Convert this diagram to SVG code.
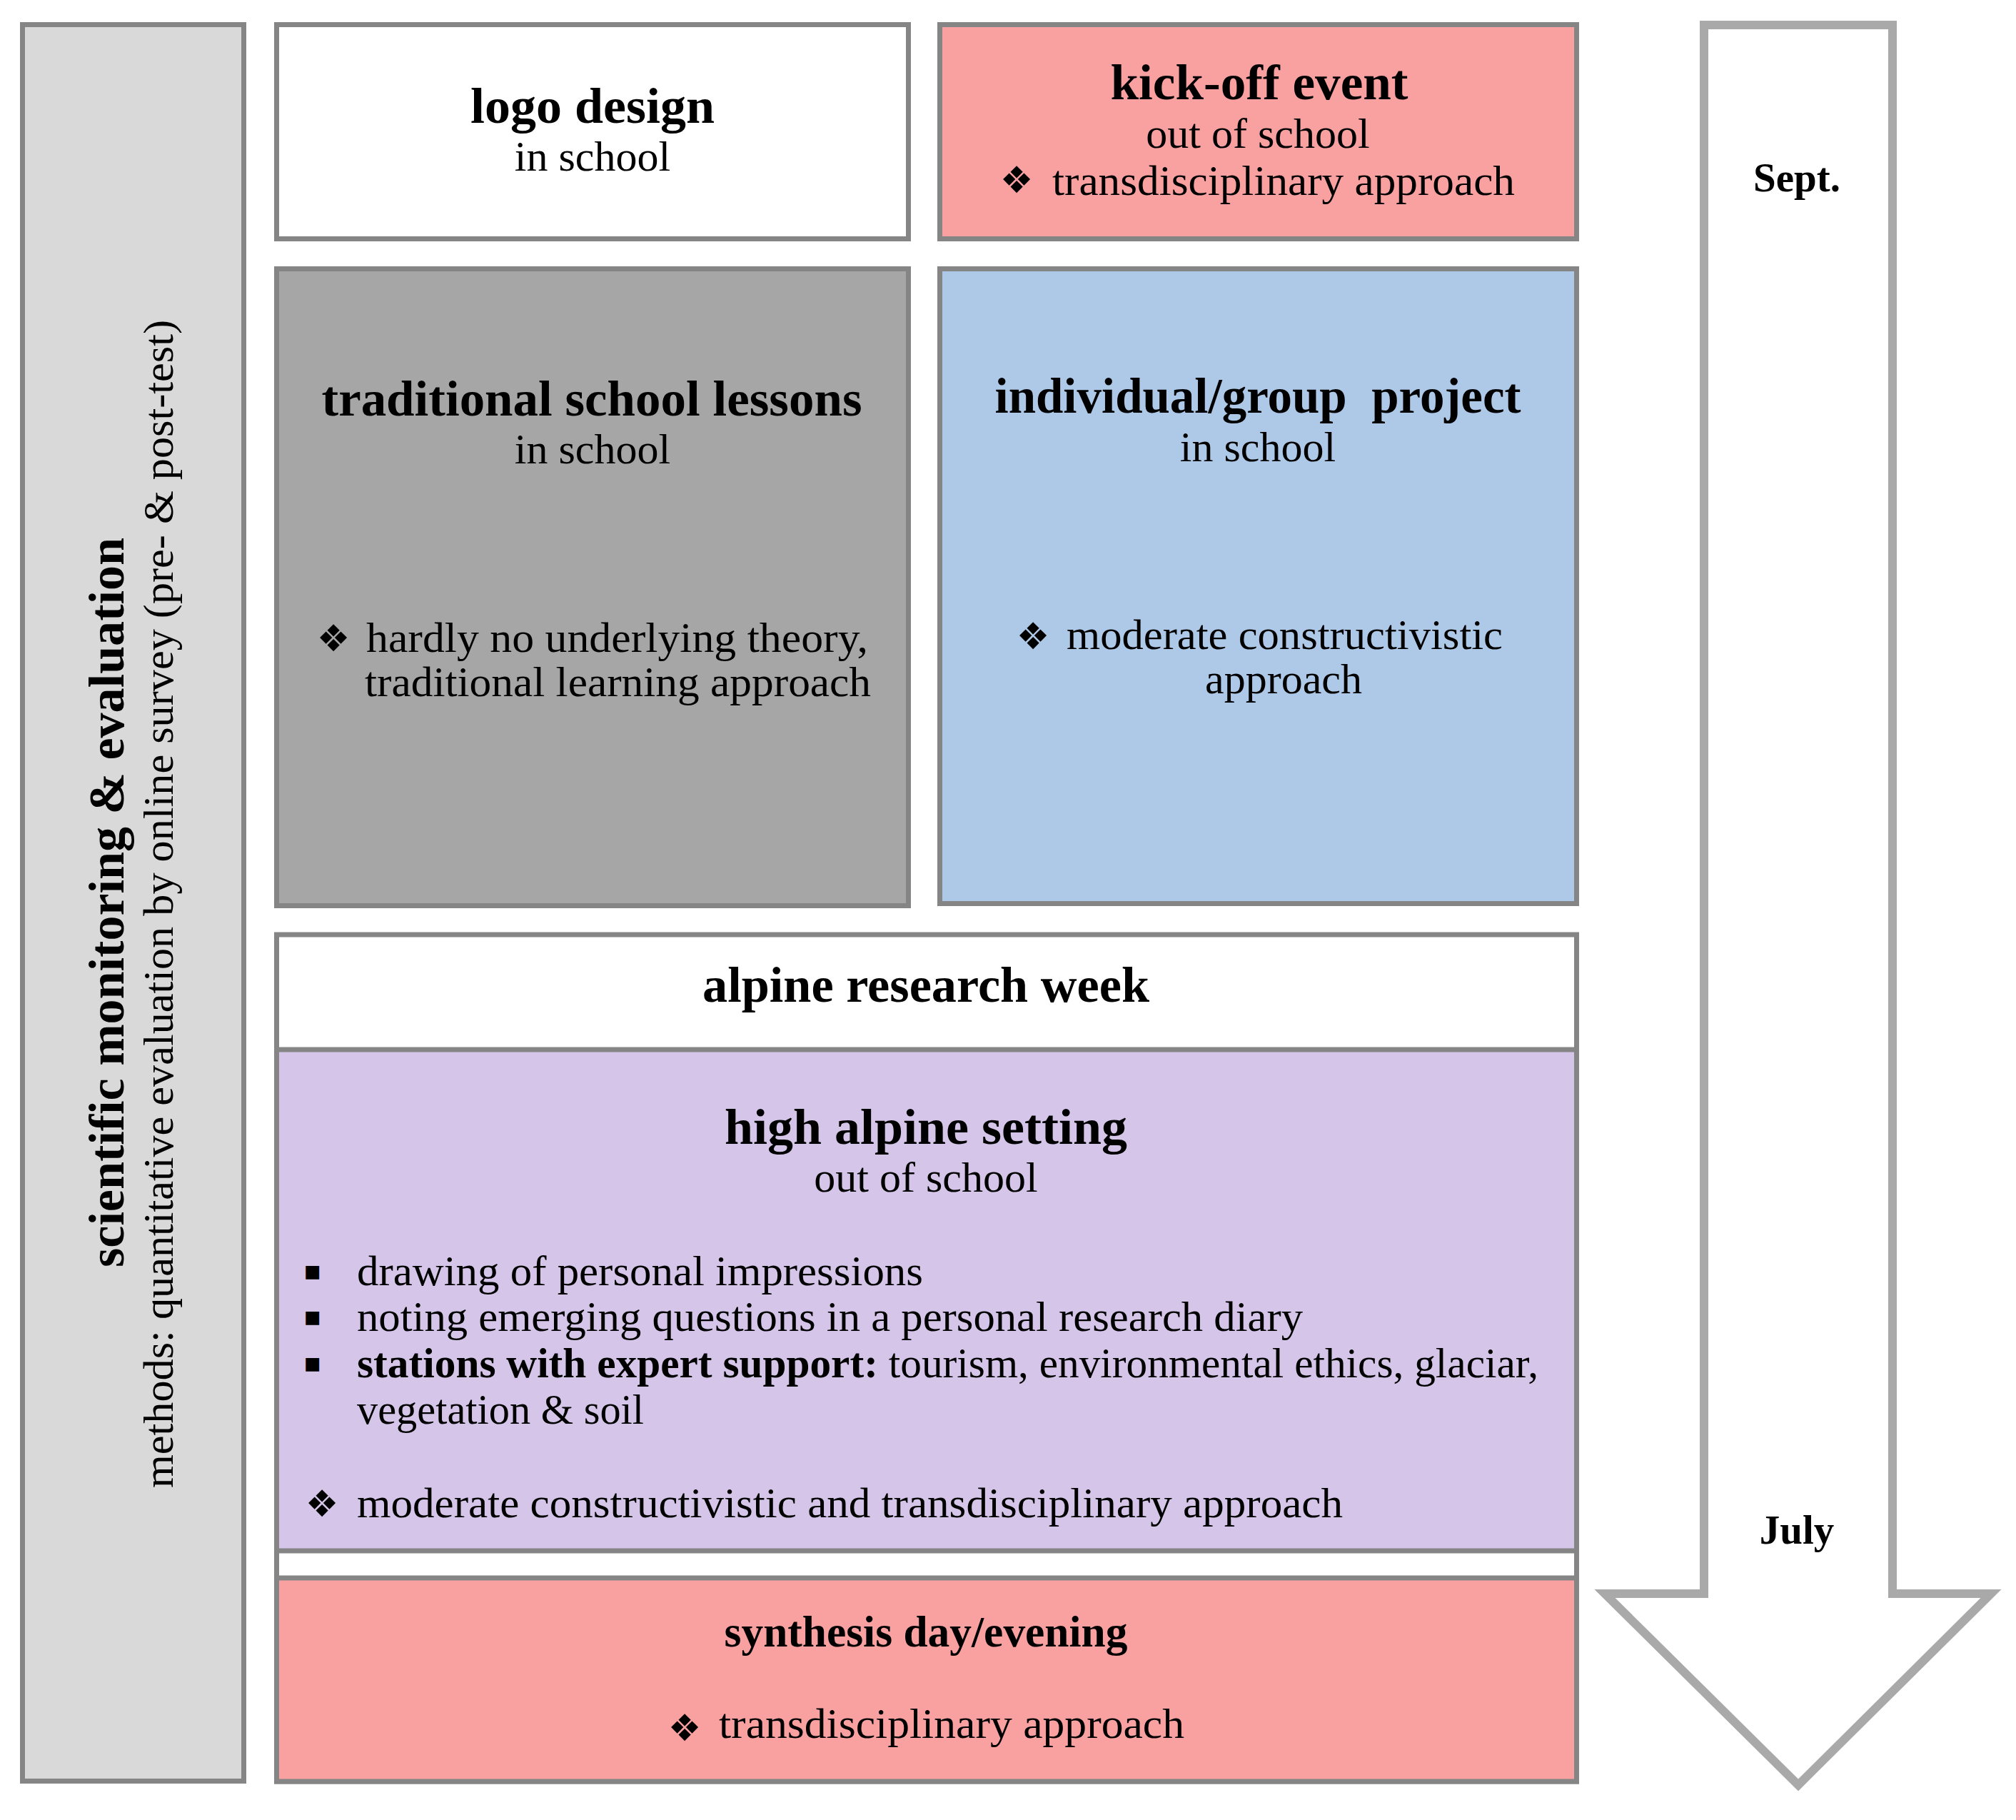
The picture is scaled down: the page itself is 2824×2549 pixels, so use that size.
<svg xmlns="http://www.w3.org/2000/svg" width="2824" height="2549" viewBox="0 0 2824 2549">
<style>
.box{stroke:#858585;stroke-width:7}
.t{font-family:"Liberation Serif","Times New Roman",serif;fill:#000}
.h{font-weight:bold;font-size:70px}
.b{font-size:60px}
.m{text-anchor:middle}
.d{font-family:"DejaVu Sans",sans-serif;font-size:52px;text-anchor:middle;fill:#000}
.sq{font-family:"DejaVu Sans",sans-serif;font-size:38px;text-anchor:middle;fill:#000}
</style>
<rect width="2824" height="2549" fill="#ffffff"/>
<g id="monitoring">
<rect class="box" x="31.5" y="34.5" width="310" height="2460" fill="#d9d9d9"/>
<text class="t h m" transform="translate(173,1264) rotate(-90)" textLength="1022" lengthAdjust="spacingAndGlyphs">scientific monitoring &amp; evaluation</text>
<text class="t b m" transform="translate(242,1266) rotate(-90)" textLength="1636" lengthAdjust="spacingAndGlyphs">methods: quantitative evaluation by online survey (pre- &amp; post-test)</text>
</g>
<g id="logo-design">
<rect class="box" x="387.5" y="34.5" width="885" height="300" fill="#ffffff"/>
<text class="t h m" x="830" y="172" textLength="342" lengthAdjust="spacingAndGlyphs">logo design</text>
<text class="t b m" x="830" y="239">in school</text>
</g>
<g id="kick-off">
<rect class="box" x="1316.5" y="34.5" width="892" height="300" fill="#f9a0a0"/>
<text class="t h m" x="1764" y="139" textLength="417" lengthAdjust="spacingAndGlyphs">kick-off event</text>
<text class="t b m" x="1762" y="207">out of school</text>
<text class="d" x="1424" y="270">❖</text>
<text class="t b" x="1474" y="273" textLength="648" lengthAdjust="spacingAndGlyphs">transdisciplinary approach</text>
</g>
<g id="traditional">
<rect class="box" x="387.5" y="376.5" width="885" height="892" fill="#a6a6a6"/>
<text class="t h m" x="829" y="582" textLength="757" lengthAdjust="spacingAndGlyphs">traditional school lessons</text>
<text class="t b m" x="830" y="649">in school</text>
<text class="d" x="467" y="912">❖</text>
<text class="t b" x="513" y="913" textLength="703" lengthAdjust="spacingAndGlyphs">hardly no underlying theory,</text>
<text class="t b" x="511" y="975" textLength="709" lengthAdjust="spacingAndGlyphs">traditional learning approach</text>
</g>
<g id="individual">
<rect class="box" x="1316.5" y="376.5" width="892" height="889" fill="#aec8e8"/>
<text class="t h m" x="1762" y="578" textLength="737" lengthAdjust="spacingAndGlyphs" style="white-space:pre">individual/group  project</text>
<text class="t b m" x="1762" y="646">in school</text>
<text class="d" x="1447" y="909">❖</text>
<text class="t b" x="1494" y="909" textLength="611" lengthAdjust="spacingAndGlyphs">moderate constructivistic</text>
<text class="t b m" x="1798" y="971">approach</text>
</g>
<g id="research-week">
<rect class="box" x="387.5" y="1309" width="1821" height="1186" fill="#ffffff"/>
<text class="t h m" x="1297" y="1403" textLength="626" lengthAdjust="spacingAndGlyphs">alpine research week</text>
</g>
<g id="high-alpine">
<rect class="box" x="387.5" y="1470" width="1821" height="702" fill="#d5c5e9"/>
<text class="t h m" x="1297" y="1602" textLength="564" lengthAdjust="spacingAndGlyphs">high alpine setting</text>
<text class="t b m" x="1297" y="1669">out of school</text>
<text class="sq" x="438" y="1792">▪</text>
<text class="t b" x="500" y="1800" textLength="793" lengthAdjust="spacingAndGlyphs">drawing of personal impressions</text>
<text class="sq" x="438" y="1856">▪</text>
<text class="t b" x="500" y="1864" textLength="1325" lengthAdjust="spacingAndGlyphs">noting emerging questions in a personal research diary</text>
<text class="sq" x="438" y="1921">▪</text>
<text class="t b" x="500" y="1929" textLength="1655" lengthAdjust="spacingAndGlyphs"><tspan font-weight="bold">stations with expert support:</tspan> tourism, environmental ethics, glaciar,</text>
<text class="t b" x="500" y="1994" textLength="402" lengthAdjust="spacingAndGlyphs">vegetation &amp; soil</text>
<text class="d" x="451" y="2124">❖</text>
<text class="t b" x="500" y="2125" textLength="1381" lengthAdjust="spacingAndGlyphs">moderate constructivistic and transdisciplinary approach</text>
</g>
<g id="synthesis">
<rect class="box" x="387.5" y="2210" width="1821" height="285" fill="#f9a0a0"/>
<text class="t m" x="1297" y="2306" font-weight="bold" font-size="61" textLength="565" lengthAdjust="spacingAndGlyphs">synthesis day/evening</text>
<text class="d" x="959" y="2438">❖</text>
<text class="t b" x="1007" y="2434" textLength="652" lengthAdjust="spacingAndGlyphs">transdisciplinary approach</text>
</g>
<g id="timeline">
<path d="M2387,35 H2651 V2232 H2789 L2519,2500 L2248,2232 H2387 Z" fill="#ffffff" stroke="#a9a9a9" stroke-width="12" stroke-linejoin="miter"/>
<text class="t m" x="2517" y="268" font-weight="bold" font-size="57">Sept.</text>
<text class="t m" x="2517" y="2162" font-weight="bold" font-size="57">July</text>
</g>
<g id="connectors"></g>
</svg>
